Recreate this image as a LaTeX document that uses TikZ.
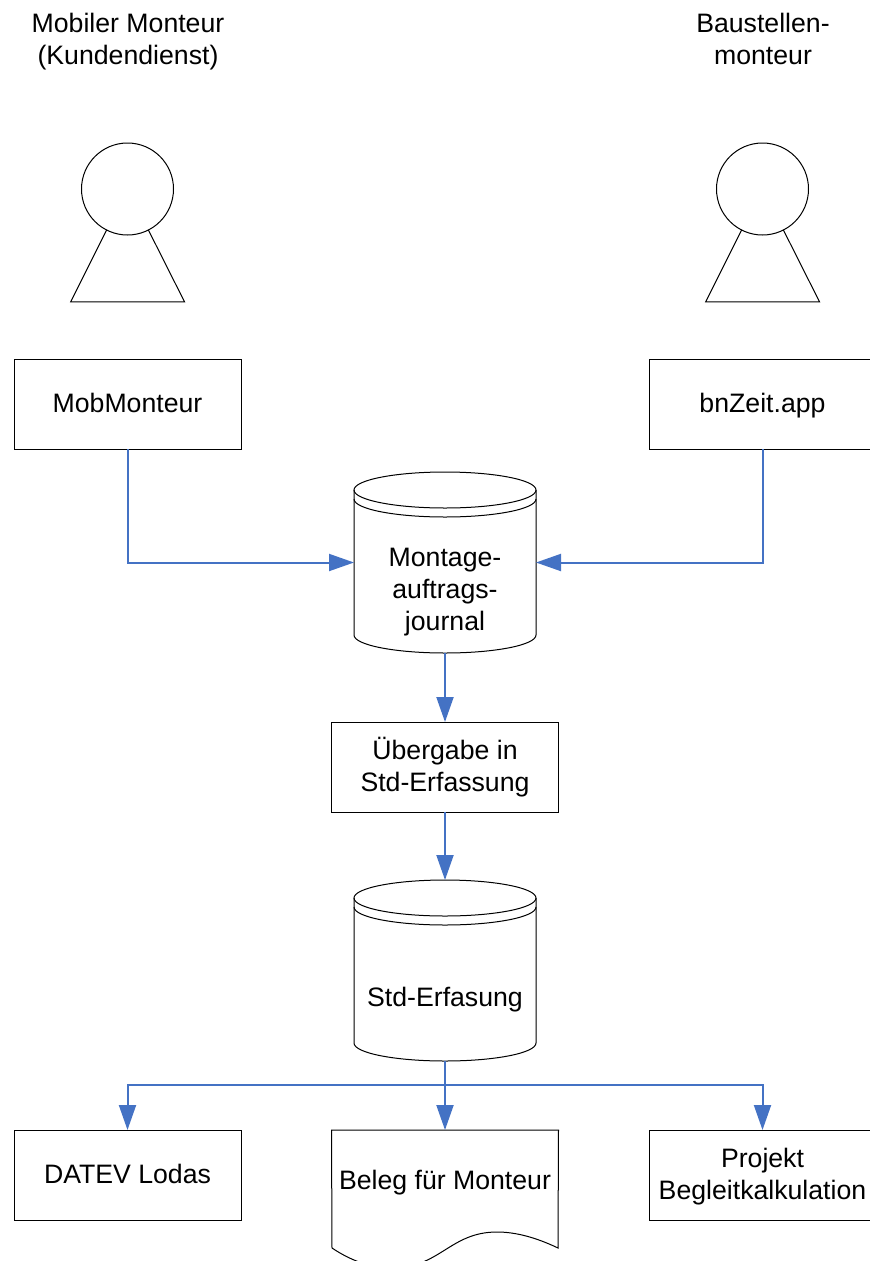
\documentclass[tikz,border=0pt]{standalone}
\usepackage{fontspec}
\setmainfont{Liberation Sans}
\usepackage{xcolor}
\usetikzlibrary{arrows.meta,positioning,calc}
\definecolor{flowblue}{HTML}{4472C4}
\tikzset{
  lbl/.style={align=center, inner sep=0pt, outer sep=0pt, text depth=5pt, font=\fontsize{20}{24}\selectfont},
  oneline/.style={text height=17pt},
  proc/.style={lbl, draw, line width=0.75pt, minimum width=170.25pt, minimum height=67.5pt},
  drum/.style={lbl, minimum width=136.5pt, minimum height=135.75pt},
  head/.style={draw, circle, line width=0.75pt, minimum size=69pt, inner sep=0pt, outer sep=0pt},
  line/.style={draw, line width=0.75pt},
  arrow/.style={-{Triangle[length=18.75pt,width=12.75pt]}, draw=flowblue, line width=1.5pt}
}
% outline of a data store around an empty node
\newcommand{\drumshape}[1]{
  \draw[line, fill=white, shift={(#1.center)}] (-91,-72.5) -- (-91,72.5)
    .. controls (-91,82.5) and (-50,90.5) .. (0,90.5)
    .. controls (50,90.5) and (91,82.5) .. (91,72.5) -- (91,-72.5);
  \draw[line, shift={(#1.center)}] (0,-72.5) ellipse [x radius=91, y radius=18];
  \draw[line, shift={(#1.center)}] (-91,-63.5)
    .. controls (-91,-53.5) and (-50,-45.5) .. (0,-45.5)
    .. controls (50,-45.5) and (91,-53.5) .. (91,-63.5);
}
\newcommand{\bodyshape}[1]{
  \draw[line] (#1.243) -- ++(-36,72) -- ++(114,0) -- (#1.297);
}
\begin{document}
\begin{tikzpicture}[x=0.75pt, y=-0.75pt]
    \clip (0,0) rectangle (870,1261);

    \node[lbl] (mobtitle) at (128,42.5) {Mobiler Monteur\\(Kundendienst)};
    \node[lbl] (bautitle) at (763,42.5) {Baustellen-\\monteur};

    \node[head] (mobhead) at (127.5,189) {};
    \node[head] (bauhead) at (762.5,189) {};
    \bodyshape{mobhead}
    \bodyshape{bauhead}

    \node[proc, oneline] (mob) at (127.5,404) {MobMonteur};
    \node[proc, oneline] (bnzeit) at (762.5,404) {bnZeit.app};

    \node[drum] (journal) at (445,562.5) {};
    \drumshape{journal}
    \node[lbl] (journaltext) at (445,592.5) {Montage-\\auftrags-\\journal};

    \node[proc, text depth=3.5pt] (uebergabe) at (445,767) {Übergabe in\\Std-Erfassung};

    \node[drum] (std) at (445,970.5) {};
    \drumshape{std}
    \node[lbl, oneline] (stdtext) at (445,998) {Std-Erfasung};

    \coordinate (split) at (445,1085);

    \node[proc, oneline] (datev) at (127.5,1175) {DATEV Lodas};
    \node[proc, text depth=2pt] (projekt) at (762.5,1175) {Projekt\\Begleitkalkulation};
    \node[lbl, oneline, minimum width=170.25pt, minimum height=75pt] (beleg) at (445,1180) {\raisebox{-0.75pt}{Beleg für Monteur}};
    \draw[line] (beleg.north west) -- (beleg.north east) -- (558,1248)
      .. controls (535,1237) and (515,1232) .. (497,1232)
      .. controls (450,1232) and (440,1268) .. (392,1268)
      .. controls (370,1268) and (350,1260) .. (332,1248) -- cycle;

    \draw[arrow] (mob.south) |- (journal.west);
    \draw[arrow] (bnzeit.south) |- (journal.east);
    \draw[arrow] (journal.south) -- (uebergabe.north);
    \draw[arrow] (uebergabe.south) -- (std.north);
    \draw[arrow] (std.south) -- (beleg.north);
    \draw[arrow] (split) -| (datev.north);
    \draw[arrow] (split) -| (projekt.north);
  \end{tikzpicture}
\end{document}
